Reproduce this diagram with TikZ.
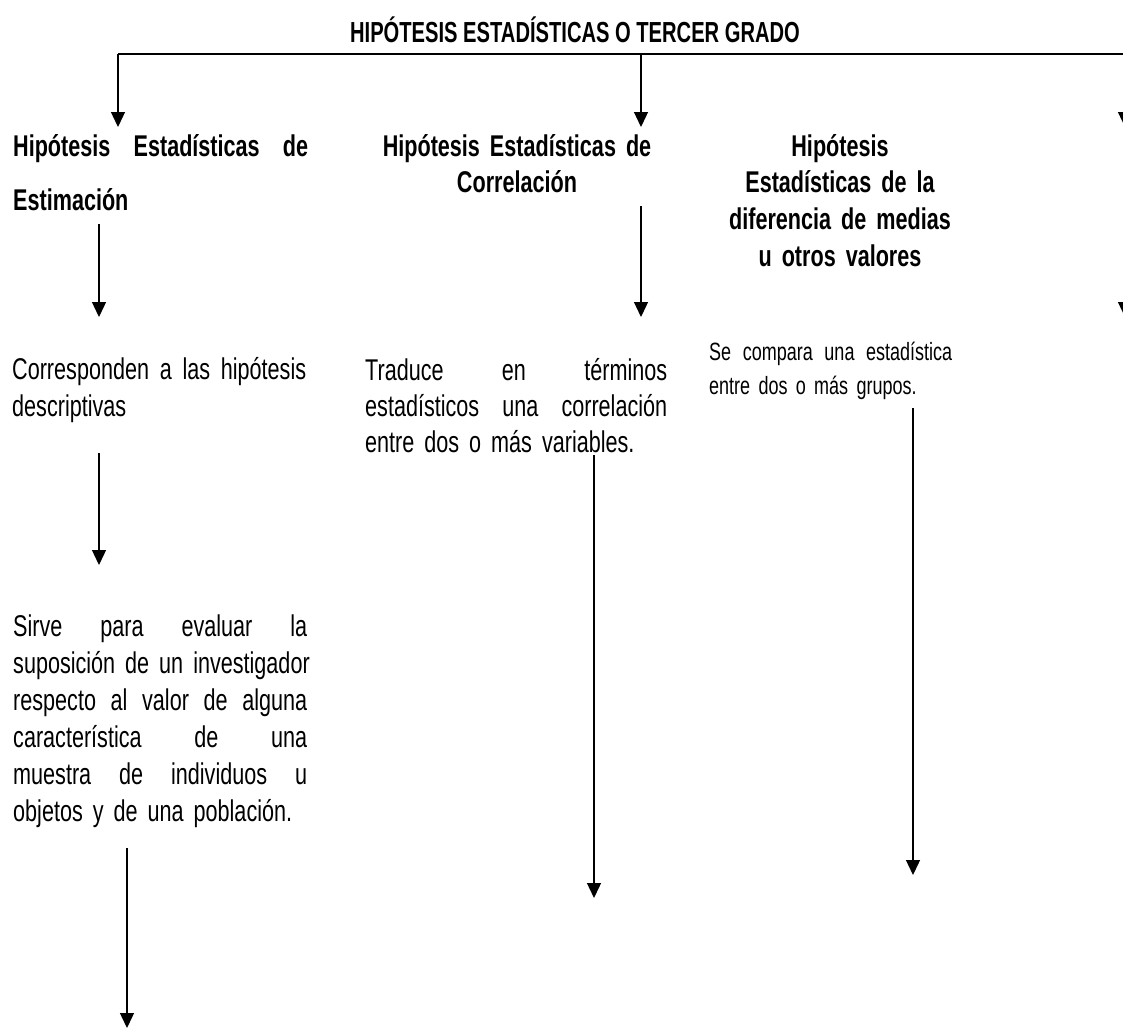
\documentclass[tikz,border=0pt]{standalone}
\usepackage{fontspec}
\setmainfont{Liberation Sans}[FakeStretch=0.72]
\newfontfamily\titlefont{Liberation Sans}[FakeStretch=0.695]
\usetikzlibrary{arrows.meta}
\newcommand\jline[2]{\leavevmode\hbox to #1{#2}}
\newcommand\gap{ \hfill }
\begin{document}
\begin{tikzpicture}[x=1pt,y=-1pt,
  conn/.style={line width=1.3pt, -{Triangle[length=15pt,width=14pt]}},
  bar/.style={line width=2pt},
  head/.style={inner sep=0pt, font=\fontsize{30}{36.7}\selectfont\bfseries},
  body/.style={inner sep=0pt, font=\fontsize{30}{37}\selectfont, align=left},
  small/.style={inner sep=0pt, font=\fontsize{25}{34}\selectfont, align=left},
]
\useasboundingbox (0,0) rectangle (1123,1029);
\clip (0,0) rectangle (1123,1029);

% title
\node[anchor=base, inner sep=0pt, font=\titlefont\fontsize{29}{30}\selectfont\bfseries] (title) at (575,42) {HIPÓTESIS ESTADÍSTICAS O TERCER GRADO};

% headings
\node[head, anchor=base west, text width=295pt, align=left] (h1) at (13,156)
  {\jline{295pt}{Hipótesis\gap Estadísticas\gap de}\\[18pt]Estimación};
\node[head, anchor=base, text width=280pt, align=center] (h2) at (517,156)
  {Hipótesis Estadísticas de\\Correlación};
\node[head, anchor=base, text width=260pt, align=center] (h3) at (840,156)
  {Hipótesis\\Estadísticas de la\\diferencia de medias\\u otros valores};

% body texts
\node[body, anchor=base west, text width=294pt] (t1) at (12,379)
  {\jline{294pt}{Corresponden\gap a\gap las\gap hipótesis}\\descriptivas};
\node[body, anchor=base west, text width=302pt, font=\fontsize{30}{36}\selectfont] (t2) at (365,380)
  {\jline{302pt}{Traduce\gap en\gap términos}\\
   \jline{302pt}{estadísticos\gap una\gap correlación}\\
   entre dos o más variables.};
\node[small, anchor=base west, text width=243pt] (t3) at (709,360)
  {\jline{243pt}{Se\gap compara\gap una\gap estadística}\\entre dos o más grupos.};
\node[body, anchor=base west, text width=294pt] (t4) at (13,636)
  {\jline{294pt}{Sirve\gap para\gap evaluar\gap la}\\
   \jline{294pt}{suposición\gap de\gap un\gap investigador}\\
   \jline{294pt}{respecto\gap al\gap valor\gap de\gap alguna}\\
   \jline{294pt}{característica\gap de\gap una}\\
   \jline{294pt}{muestra\gap de\gap individuos\gap u}\\
   objetos y de una población.};

% connector coordinates
\coordinate (barL) at (118,54);
\coordinate (barM) at (641,54);
\coordinate (barR) at (1125,54);
\coordinate (barE) at (1135,54);
\coordinate (a1) at (118,127);
\coordinate (a2) at (641,127);
\coordinate (a3) at (1125,127);
\coordinate (b1s) at (99,224);
\coordinate (b1e) at (99,317);
\coordinate (b2s) at (641,206);
\coordinate (b2e) at (641,317);
\coordinate (b3s) at (1125,240);
\coordinate (b3e) at (1125,317);
\coordinate (c1s) at (99,453);
\coordinate (c1e) at (99,565);
\coordinate (c2s) at (594,455);
\coordinate (c2e) at (594,898);
\coordinate (c3s) at (913,408);
\coordinate (c3e) at (913,875);
\coordinate (d1s) at (127,848);
\coordinate (d1e) at (127,1028);

\draw[bar] (barL) -- (barE);
\draw[conn] (barL) -- (a1);
\draw[conn] (barM) -- (a2);
\draw[conn] (barR) -- (a3);
\draw[conn] (b1s) -- (b1e);
\draw[conn] (b2s) -- (b2e);
\draw[conn] (b3s) -- (b3e);
\draw[conn] (c1s) -- (c1e);
\draw[conn] (c2s) -- (c2e);
\draw[conn] (c3s) -- (c3e);
\draw[conn] (d1s) -- (d1e);
\end{tikzpicture}
\end{document}
